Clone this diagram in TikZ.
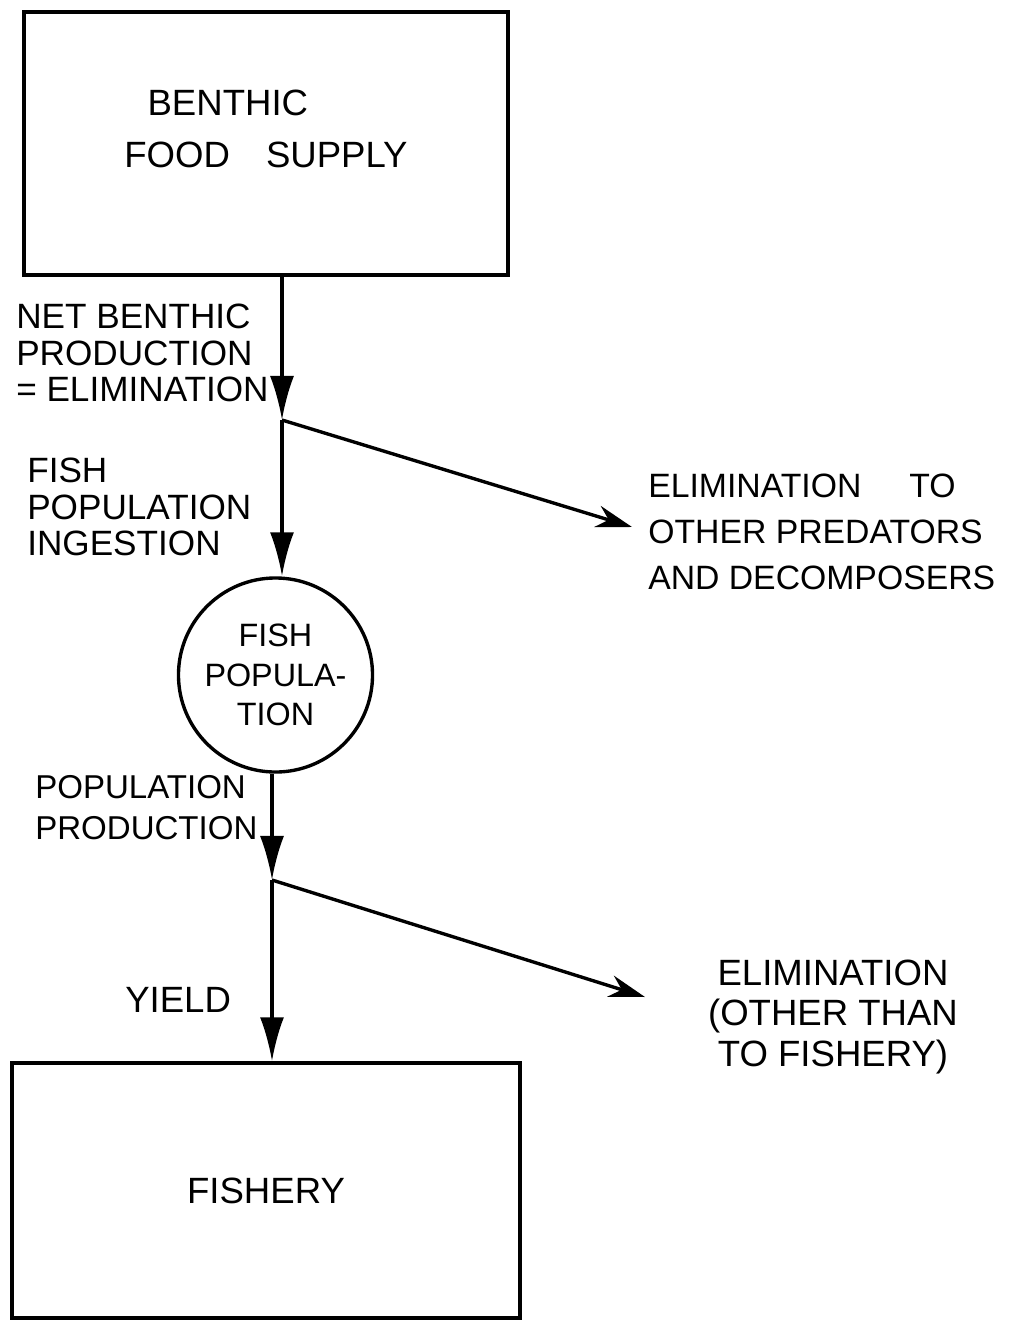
\documentclass[tikz,border=0pt]{standalone}
\usepackage{fontspec}
\setmainfont{Liberation Sans}
\usetikzlibrary{arrows.meta,positioning}
\tikzset{
  fsbox/.style={draw,line width=2.4pt,inner sep=0pt,align=left,font=\fontsize{26}{37}\selectfont},
  fscirc/.style={draw,circle,line width=2.4pt,inner sep=0pt,minimum size=4.85cm,align=center,font=\fontsize{23}{28}\selectfont},
  fsarr/.style={-{Latex[length=1.1cm,width=0.6cm]},line width=2.4pt},
  fsbranch/.style={-{Stealth[length=0.9cm,width=0.55cm]},line width=2.4pt},
  fslbl/.style={inner sep=0pt,align=left,anchor=west,font=\fontsize{25}{26}\selectfont}
}
\begin{document}
\begin{tikzpicture}[x=0.025cm,y=-0.025cm]
\useasboundingbox (0,0) rectangle (1016,1321);
% boxes and the population
\node[fsbox,minimum width=12.1cm,minimum height=6.575cm] (supply) at (266,143.5) {};
\node[fslbl,anchor=center,font=\fontsize{26}{37}\selectfont] (supplytxt) at (266,129) {\hspace*{0.58cm}BENTHIC\\FOOD\hspace{0.9cm}SUPPLY};
\node[fscirc] (fishpop) at (275.5,675) {FISH\\POPULA-\\TION};
\node[fsbox,minimum width=12.7cm,minimum height=6.375cm] (fishery) at (266,1190.5) {FISHERY};
% split points and loose ends
\coordinate (split1) at (282,420);
\coordinate (elim1end) at (632,527);
\coordinate (split2) at (272,880);
\coordinate (elim2end) at (645,997);
% flows
\draw[fsarr] (supply.south -| split1) -- (split1);
\draw[fsarr] (split1) -- (split1 |- fishpop.north);
\draw[fsbranch] (split1) -- (elim1end);
\draw[fsarr] (fishpop.south -| split2) -- (split2);
\draw[fsarr] (split2) -- (split2 |- fishery.north);
\draw[fsbranch] (split2) -- (elim2end);
% flow labels
\node[fslbl] (netprod) at (16,353) {NET BENTHIC\\PRODUCTION\\= ELIMINATION};
\node[fslbl] (ingest) at (27,507) {FISH\\POPULATION\\INGESTION};
\node[fslbl,font=\fontsize{24}{32.6}\selectfont] (elim1) at (648,532) {ELIMINATION\hspace{1.2cm}TO\\OTHER PREDATORS\\AND DECOMPOSERS};
\node[fslbl,font=\fontsize{23.5}{29}\selectfont] (popprod) at (35,808) {POPULATION\\PRODUCTION};
\node[fslbl,font=\fontsize{26}{29}\selectfont] (yield) at (125,1000) {YIELD};
\node[fslbl,anchor=center,align=center,font=\fontsize{26}{29}\selectfont] (elim2) at (833,1017) {ELIMINATION\\(OTHER THAN\\TO FISHERY)};
\end{tikzpicture}
\end{document}
